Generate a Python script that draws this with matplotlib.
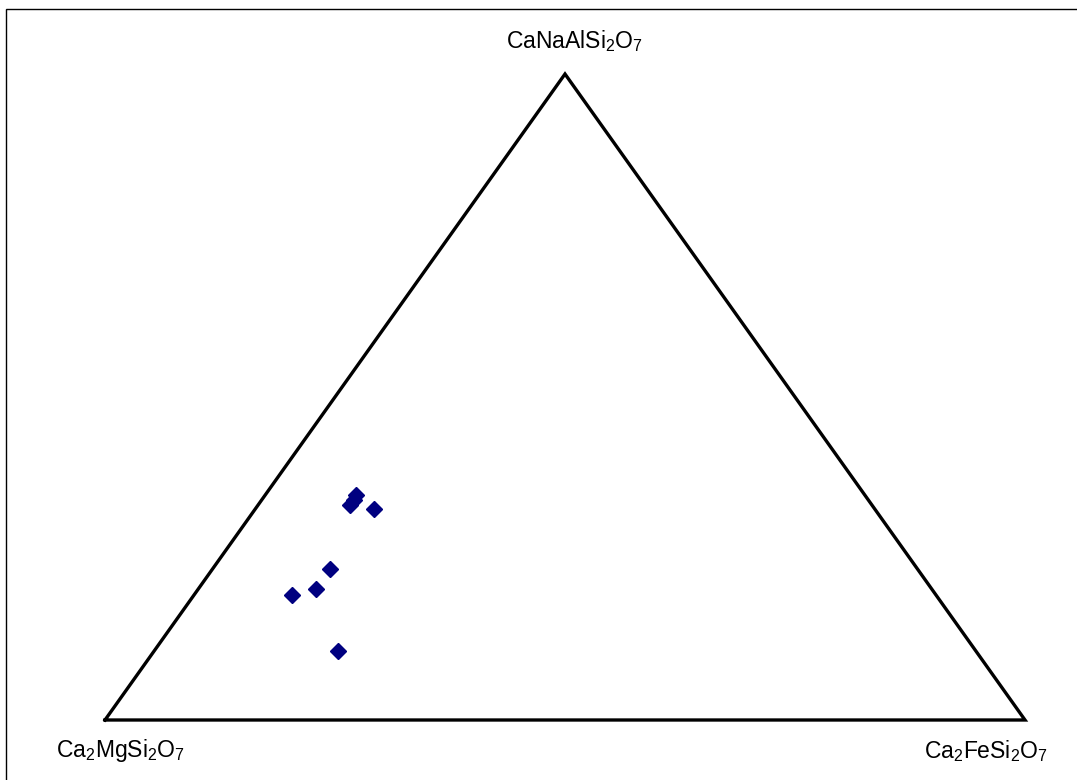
import matplotlib
matplotlib.use("Agg")
import matplotlib.pyplot as plt
from matplotlib.patches import Rectangle
import numpy as np

plt.rcParams["font.family"] = ["Liberation Sans", "DejaVu Sans"]
plt.rcParams["mathtext.fontset"] = "custom"
plt.rcParams["mathtext.rm"] = "Liberation Sans"
plt.rcParams["mathtext.it"] = "Liberation Sans"

# end members (apex order: bottom-left, bottom-right, top)
end_members = [r"Ca$_2$MgSi$_2$O$_7$", r"Ca$_2$FeSi$_2$O$_7$", r"CaNaAlSi$_2$O$_7$"]

# molar fractions
frac_mg = [0.553, 0.559, 0.567, 0.544, 0.638, 0.669, 0.700, 0.693]
frac_fe = [0.099, 0.100, 0.100, 0.129, 0.128, 0.128, 0.107, 0.200]
frac_na = [0.348, 0.341, 0.333, 0.327, 0.234, 0.203, 0.193, 0.107]


def to_xy(fe, na):
    fe = np.asarray(fe, dtype=float)
    na = np.asarray(na, dtype=float)
    return fe + 0.5 * na, na


fig = plt.figure(figsize=(10.77, 7.8), dpi=100)
fig.patches.append(Rectangle((6 / 1077, -0.05), 1.2, 0.05 + 771 / 780,
                             transform=fig.transFigure, fill=False,
                             edgecolor="black", linewidth=1.0))

ax = fig.add_axes([105 / 1077, 60 / 780, 920 / 1077, 646 / 780])
ax.set_xlim(0, 1)
ax.set_ylim(0, 1)
ax.axis("off")

tx, ty = to_xy([0, 1, 0, 0], [0, 0, 1, 0])
ax.plot(tx, ty, color="black", linewidth=2.4, solid_joinstyle="miter",
        clip_on=False)

px, py = to_xy(frac_fe, frac_na)
ax.plot(px, py, linestyle="none", marker="D", markersize=8.5,
        color="#000080", clip_on=False)

ax.annotate(end_members[0], (0, 0), xytext=(11, -22), textcoords="offset points",
            ha="center", va="center", fontsize=16.5, annotation_clip=False)
ax.annotate(end_members[1], (1, 0), xytext=(-28, -22), textcoords="offset points",
            ha="center", va="center", fontsize=16.5, annotation_clip=False)
ax.annotate(end_members[2], (0.5, 1), xytext=(7, 24), textcoords="offset points",
            ha="center", va="center", fontsize=16.5, annotation_clip=False)

fig.savefig("out.png", dpi=100)
